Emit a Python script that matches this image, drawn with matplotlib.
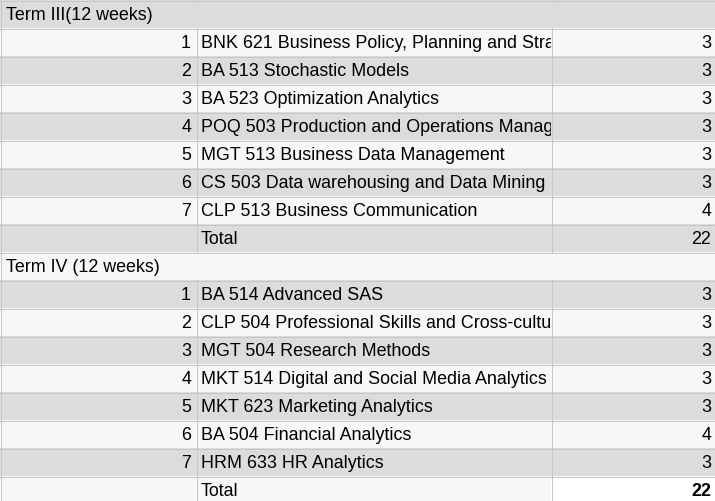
import matplotlib
matplotlib.use("Agg")
import matplotlib.pyplot as plt
from matplotlib.patches import Rectangle
from matplotlib.transforms import Bbox, TransformedBbox

plt.rcParams['font.family'] = ['Liberation Sans', 'DejaVu Sans']

# ---- data ----
term_titles = ["Term III(12 weeks)", "Term IV (12 weeks)"]
term3_numbers = [1, 2, 3, 4, 5, 6, 7]
term3_courses = [
    "BNK 621 Business Policy, Planning and Strategy",
    "BA 513 Stochastic Models",
    "BA 523 Optimization Analytics",
    "POQ 503 Production and Operations Management",
    "MGT 513 Business Data Management",
    "CS 503 Data warehousing and Data Mining",
    "CLP 513 Business Communication",
]
term3_credits = [3, 3, 3, 3, 3, 3, 4]
term3_total = 22

term4_numbers = [1, 2, 3, 4, 5, 6, 7]
term4_courses = [
    "BA 514 Advanced SAS",
    "CLP 504 Professional Skills and Cross-cultural Communication",
    "MGT 504 Research Methods",
    "MKT 514 Digital and Social Media Analytics",
    "MKT 623 Marketing Analytics",
    "BA 504 Financial Analytics",
    "HRM 633 HR Analytics",
]
term4_credits = [3, 3, 3, 3, 3, 4, 3]
term4_total = 22
total_label = "Total"

# ---- style ----
W, H = 715, 502
col_edges = [0, 196, 551, 715]
row_h = 28
top = 1
gray = '#dcdcdc'
light = '#f7f7f7'
white = '#ffffff'
line_c = '#c6c6c6'
fs = 12.85

fig = plt.figure(figsize=(W / 100, H / 100), dpi=100)
ax = fig.add_axes([0, 0, 1, 1])
ax.set_xlim(0, W)
ax.set_ylim(H, 0)
ax.axis('off')
fig.patch.set_facecolor(light)

rows = []
for title, nums, courses, credits, total in [
    (term_titles[0], term3_numbers, term3_courses, term3_credits, term3_total),
    (term_titles[1], term4_numbers, term4_courses, term4_credits, term4_total),
]:
    rows.append(('header', title))
    for n, c, cr in zip(nums, courses, credits):
        rows.append(('item', (n, c, cr)))
    rows.append(('total', total))

ax.add_patch(Rectangle((0, 0), W, top, facecolor=light, edgecolor='none'))
for x in col_edges[1:-1]:
    ax.plot([x + 0.5, x + 0.5], [0, top], color=line_c, lw=0.72)

n_rows = len(rows)
for i, (kind, data) in enumerate(rows):
    y0 = top + i * row_h
    y1 = y0 + row_h
    bg = gray if i % 2 == 0 else light
    ax.add_patch(Rectangle((0, y0), W, row_h, facecolor=bg, edgecolor='none'))
    ty = y1 - 8.5
    if kind == 'header':
        ax.text(6, ty, data, ha='left', va='baseline', fontsize=fs, color='black')
    else:
        if kind == 'total' and i == n_rows - 1:
            ax.add_patch(Rectangle((col_edges[2], y0), col_edges[3] - col_edges[2], row_h,
                                   facecolor=white, edgecolor='none'))
        for x in col_edges[1:-1]:
            ax.plot([x + 0.5, x + 0.5], [y0, y1], color=line_c, lw=0.72)
        if kind == 'item':
            n, c, cr = data
            ax.text(col_edges[1] - 5, ty, str(n), ha='right', va='baseline', fontsize=fs)
            t = ax.text(col_edges[1] + 5, ty, c, ha='left', va='baseline', fontsize=fs,
                        clip_on=True)
            t.set_clip_box(TransformedBbox(
                Bbox([[col_edges[1] + 1, y0], [col_edges[2], y1]]), ax.transData))
            ax.text(col_edges[3] - 4, ty, str(cr), ha='right', va='baseline', fontsize=fs)
        else:
            ax.text(col_edges[1] + 5, ty, total_label, ha='left', va='baseline', fontsize=fs)
            bold = (i == n_rows - 1)
            ax.text(col_edges[3] - 4, ty, str(data), ha='right', va='baseline', fontsize=fs,
                    fontweight='bold' if bold else 'normal')
    ax.plot([0, W], [y0 + 0.5, y0 + 0.5], color=line_c, lw=0.72)

ax.plot([0.5, 0.5], [0, H], color=line_c, lw=0.72)

fig.savefig('out.png', dpi=100, facecolor=fig.get_facecolor())
